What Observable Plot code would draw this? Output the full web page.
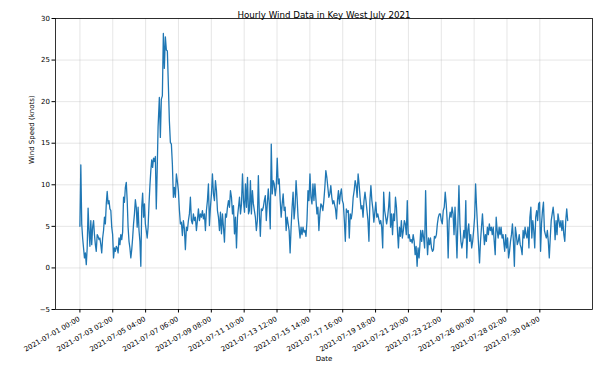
<!DOCTYPE html>
<html>
<head>
<meta charset="utf-8">
<script src="https://cdn.jsdelivr.net/npm/d3@7"></script>
<script src="https://cdn.jsdelivr.net/npm/@observablehq/plot@0.6"></script>
<style>
  html, body { margin: 0; padding: 0; background: #fff; }
  #chart { width: 598px; height: 368px; }
</style>
</head>
<body>
<div id="chart"></div>
<script>
const title = "Hourly Wind Data in Key West July 2021";
const xLabel = "Date";
const yLabel = "Wind Speed (knots)";

// Tick labels on the time axis (every 50 hours)
const tickLabels = [
  "2021-07-01 00:00", "2021-07-03 02:00", "2021-07-05 04:00", "2021-07-07 06:00",
  "2021-07-09 08:00", "2021-07-11 10:00", "2021-07-13 12:00", "2021-07-15 14:00",
  "2021-07-17 16:00", "2021-07-19 18:00", "2021-07-21 20:00", "2021-07-23 22:00",
  "2021-07-26 00:00", "2021-07-28 02:00", "2021-07-30 04:00"
];
const yTicks = [-5, 0, 5, 10, 15, 20, 25, 30];

// Readings, in segments; each segment spans [segStartHour, segEndHour] after 2021-07-01 00:00
const segStartHour = [0, 120.9, 258, 389, 517.2, 646.5];
const segEndHour   = [119, 256.6, 387.9, 516.2, 645.5, 742.4];

const speedA = [5.0, 12.4, 5.3, 3.6, 2.4, 1.2, 1.8, 0.4, 2.4, 7.2,
  4.5, 2.6, 5.7, 2.8, 4.9, 5.7, 4.0, 2.8, 2.0, 4.0,
  3.8, 3.4, 3.6, 2.8, 1.8, 3.6, 4.5, 6.1, 5.3, 7.7,
  9.2, 7.7, 8.1, 7.1, 6.9, 4.9, 4.0, 1.2, 2.4, 2.0,
  2.6, 2.4, 1.8, 3.6, 2.8, 4.0, 3.4, 4.3, 8.5, 7.9,
  9.7, 10.3, 8.1, 4.9, 3.2, 2.4, 1.2, 2.2, 3.6, 5.3,
  6.5, 8.2, 7.3, 4.9, 7.3, 4.5, 3.2, 0.2, 7.3, 9.0,
  6.1, 7.7, 5.3, 4.5, 3.6, 4.9, 7.7, 9.9, 11.7, 13.0,
  12.1, 13.2, 12.8, 13.4, 7.1, 11.7, 17.0];

const speedB = [20.5, 15.7, 20.3, 20.7, 28.2, 24.0, 27.8, 26.2, 26.1, 22.0,
  17.7, 15.1, 14.9, 12.5, 8.5, 9.7, 8.5, 11.3, 10.4, 9.3,
  7.0, 5.3, 5.5, 3.9, 5.7, 4.7, 2.2, 4.9, 4.5, 5.7,
  6.5, 8.5, 5.7, 5.3, 6.5, 5.7, 6.1, 4.5, 5.7, 7.1,
  5.7, 6.5, 6.1, 6.9, 5.9, 6.5, 4.5, 6.9, 8.1, 10.1,
  5.1, 7.3, 8.9, 11.3, 8.9, 8.1, 10.5, 9.3, 6.9, 6.1,
  4.5, 6.7, 4.1, 6.5, 4.9, 3.1, 6.5, 6.1, 7.3, 8.1,
  7.3, 9.3, 8.5, 6.5, 7.5, 4.1, 6.1, 2.4, 6.1, 7.3,
  8.5, 6.5, 7.7, 11.3, 8.1, 6.7, 10.1, 7.3, 10.9, 6.5];

const speedC = [6.9, 10.5, 6.5, 9.3, 7.7, 6.9, 6.1, 4.5, 5.7, 11.1,
  6.5, 3.8, 7.1, 6.9, 7.3, 8.1, 8.7, 5.7, 7.7, 9.5,
  7.7, 4.7, 14.9, 8.9, 10.5, 10.1, 8.7, 9.7, 13.2, 10.1,
  10.7, 8.1, 6.1, 7.7, 8.9, 6.9, 7.3, 4.5, 6.1, 5.3,
  4.5, 1.8, 4.9, 7.3, 9.1, 5.9, 7.3, 10.5, 8.5, 6.1,
  4.9, 3.6, 4.9, 4.0, 4.9, 4.3, 4.5, 3.8, 5.7, 9.3,
  8.1, 11.3, 8.5, 7.7, 10.1, 8.1, 10.1, 8.3, 6.5, 7.3,
  4.5, 6.5, 7.7, 7.5, 6.9, 8.1, 9.7, 11.7, 10.9, 9.7,
  8.5, 8.9, 9.9, 8.5, 7.7, 8.1, 7.5];

const speedD = [7.1, 5.9, 8.1, 9.3, 7.7, 8.9, 9.5, 8.1, 7.7, 5.7,
  3.2, 7.1, 6.7, 6.9, 3.6, 6.5, 5.9, 6.7, 8.5, 9.3,
  10.5, 9.9, 8.5, 11.3, 10.1, 8.5, 7.1, 7.5, 6.1, 8.1,
  9.1, 8.1, 6.9, 5.7, 3.2, 8.1, 9.9, 8.1, 7.1, 5.5,
  6.7, 7.9, 6.1, 6.5, 5.9, 5.3, 5.7, 4.9, 2.4, 9.1,
  6.9, 6.1, 5.3, 6.1, 7.3, 9.1, 4.9, 6.5, 4.0, 6.5,
  5.7, 8.5, 7.3, 4.5, 2.4, 4.9, 3.8, 5.7, 3.6, 4.5,
  5.7, 5.3, 4.0, 8.1, 3.6, 4.0, 3.2, 3.4, 3.0, 4.0,
  3.2, 1.6, 2.6, 0.2, 2.4, 1.2];

const speedE = [2.4, 4.5, 3.2, 4.5, 3.6, 2.4, 9.3, 4.0, 1.6, 3.6,
  2.8, 3.6, 2.4, 2.0, 2.2, 3.8, 3.6, 4.0, 5.3, 6.1,
  6.5, 6.5, 5.7, 5.3, 6.9, 7.3, 9.1, 7.7, 5.7, 1.2,
  5.7, 6.7, 6.1, 7.3, 6.5, 4.0, 7.3, 4.5, 1.2, 5.7,
  9.9, 5.3, 3.2, 2.4, 3.2, 4.5, 3.6, 8.1, 1.2, 4.5,
  5.3, 3.2, 4.0, 2.4, 3.2, 4.5, 6.1, 10.1, 7.3, 4.9,
  2.8, 0.6, 3.2, 4.9, 6.5, 4.5, 2.8, 4.0, 3.2, 4.9,
  4.0, 5.3, 4.5, 4.9, 4.0, 4.9, 3.2, 1.6, 6.1, 4.5,
  3.6, 4.9, 4.0, 4.9, 3.6, 4.0, 2.8];

const speedF = [2.0, 4.0, 2.4, 3.6, 1.2, 2.0, 3.2, 4.0, 5.3, 3.2,
  0.2, 4.9, 4.0, 2.8, 3.2, 4.0, 2.8, 2.4, 1.6, 4.5,
  3.6, 4.9, 4.0, 3.6, 4.9, 2.4, 6.1, 7.3, 3.6, 5.7,
  4.5, 2.4, 6.1, 6.9, 5.7, 7.7, 7.9, 2.0, 5.3, 6.9,
  7.9, 4.5, 4.0, 3.6, 4.5, 3.2, 1.2, 3.6, 5.7, 6.5,
  7.3, 6.1, 3.4, 5.7, 4.0, 6.5, 5.7, 4.9, 5.7, 4.5,
  5.7, 4.0, 3.2, 5.7, 7.1, 5.7];

const segments = [speedA, speedB, speedC, speedD, speedE, speedF];

const parse = d3.utcParse("%Y-%m-%d %H:%M");
const t0 = parse(tickLabels[0]).getTime();
const HOUR = 3600e3;

const data = [];
segments.forEach((vals, s) => {
  const a = segStartHour[s], b = segEndHour[s];
  vals.forEach((v, i) => {
    data.push({time: new Date(t0 + (a + i * (b - a) / (vals.length - 1)) * HOUR), speed: v});
  });
});

const ticks = tickLabels.map(label => ({date: parse(label), label}));
const last = t0 + 743 * HOUR;
const pad = (last - t0) * 0.05;

const chart = Plot.plot({
  width: 598,
  height: 368,
  marginLeft: 55,
  marginRight: 6,
  marginTop: 18,
  marginBottom: 59,
  style: {fontFamily: "DejaVu Sans", fontSize: "7px", color: "#000", background: "#fff"},
  x: {type: "utc", domain: [new Date(t0 - pad), new Date(last + pad)]},
  y: {domain: [-5, 30]},
  marks: [
    Plot.gridX(ticks.map(d => d.date), {stroke: "#b0b0b0", strokeOpacity: 0.4, strokeWidth: 0.8}),
    Plot.gridY(yTicks, {stroke: "#b0b0b0", strokeOpacity: 0.4, strokeWidth: 0.8}),
    Plot.lineY(data, {x: "time", y: "speed", stroke: "#1f77b4", strokeWidth: 1.3}),
    Plot.frame({stroke: "#000", strokeWidth: 0.8}),
    Plot.axisY(yTicks, {tickSize: 3.5, tickPadding: 2, label: null,
      tickFormat: d => d < 0 ? "\u2212" + (-d) : String(d)}),
    Plot.axisX(ticks.map(d => d.date), {tickSize: 3.5, label: null, tickFormat: () => ""}),
    Plot.text(ticks, {x: "date", text: "label", frameAnchor: "bottom", rotate: -30,
      textAnchor: "end", lineAnchor: "top", dx: -2, dy: 6.5, fontSize: 7, fill: "#000"}),
    Plot.text([title], {frameAnchor: "top", dy: -7, fontSize: 8.7}),
    Plot.text([xLabel], {frameAnchor: "bottom", dy: 51, fontSize: 7}),
    Plot.text([yLabel], {frameAnchor: "left", rotate: -90, dx: -24, fontSize: 7})
  ]
});
document.getElementById("chart").appendChild(chart);
</script>
</body>
</html>
